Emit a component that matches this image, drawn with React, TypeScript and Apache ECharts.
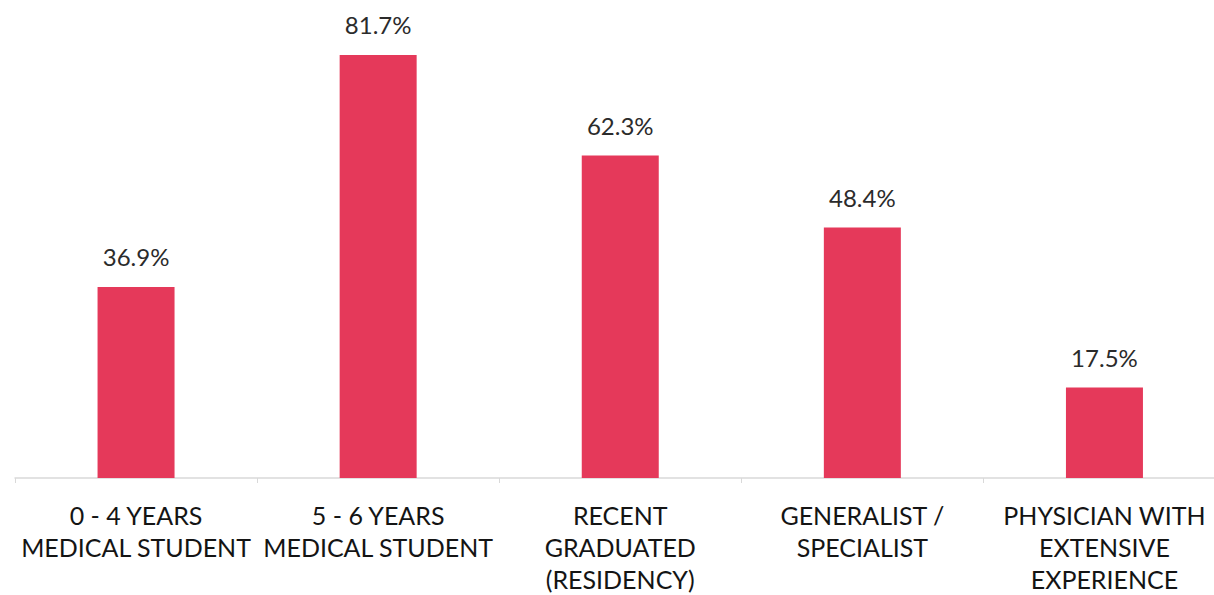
import React, { useEffect, useRef } from "react";
import * as echarts from "echarts";

const categories = [
  "0 - 4 YEARS\nMEDICAL STUDENT",
  "5 - 6 YEARS\nMEDICAL STUDENT",
  "RECENT\nGRADUATED\n(RESIDENCY)",
  "GENERALIST /\nSPECIALIST",
  "PHYSICIAN WITH\nEXTENSIVE\nEXPERIENCE",
];
const values = [36.9, 81.7, 62.3, 48.4, 17.5];

export default function App() {
  const ref = useRef<HTMLDivElement>(null);
  useEffect(() => {
    if (!ref.current) return;
    const chart = echarts.init(ref.current, null, { renderer: "svg" });
    chart.setOption({
      animation: false,
      grid: { left: 15, right: 14.5, top: 12, bottom: 114, containLabel: false },
      xAxis: {
        type: "category",
        data: categories,
        boundaryGap: true,
        axisLine: { show: true, lineStyle: { color: "#d9d9d9", width: 1.5 } },
        axisTick: { show: true, length: 5, lineStyle: { color: "#d9d9d9" } },
        axisLabel: {
          interval: 0,
          margin: 21,
          color: "#141414",
          fontFamily: "Lato",
          fontSize: 25,
          lineHeight: 32,
        },
      },
      yAxis: {
        type: "value",
        min: 0,
        max: 90,
        show: false,
        splitLine: { show: false },
      },
      series: [
        {
          type: "bar",
          data: values,
          barWidth: 77,
          itemStyle: { color: "#E5395A" },
          label: {
            show: true,
            position: "top",
            distance: 18,
            formatter: (p: any) => p.value.toFixed(1) + "%",
            color: "#2b2b2b",
            fontFamily: "Lato",
            fontSize: 24,
          },
        },
      ],
    });
    return () => chart.dispose();
  }, []);
  return (
    <div
      style={{
        position: "absolute",
        left: 0,
        top: 0,
        width: 1214,
        height: 595,
        overflow: "hidden",
        background: "#fff",
      }}
    >
      <div ref={ref} style={{ width: 1240, height: 595 }} />
    </div>
  );
}
